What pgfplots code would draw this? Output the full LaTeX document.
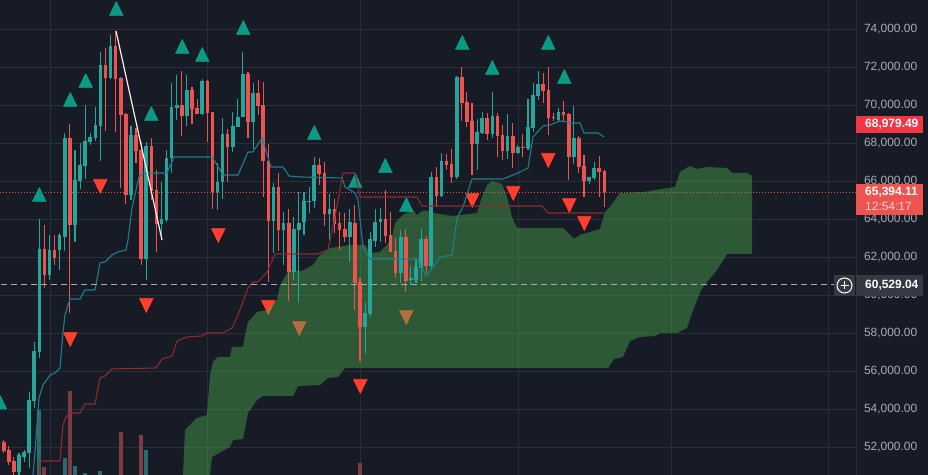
\documentclass[border=0pt]{standalone}
\usepackage{pgfplots}
\usepackage{pgfplotstable}
\usepackage{fontspec}
\setmainfont{Liberation Sans}
\pgfplotsset{compat=1.18}
\definecolor{bg}{HTML}{171B26}
\definecolor{gridc}{HTML}{2A2E39}
\definecolor{upc}{HTML}{26A69A}
\definecolor{dnc}{HTML}{EF5350}
\definecolor{triup}{HTML}{0A9A85}
\definecolor{tridn}{HTML}{FB4032}
\definecolor{tenkan}{HTML}{1E7F8C}
\definecolor{kijun}{HTML}{8C2A30}
\definecolor{volr}{HTML}{7D3C42}
\definecolor{volt}{HTML}{2B6A6D}
\definecolor{lab}{HTML}{A9ACB5}
\definecolor{tagd}{HTML}{353944}
\definecolor{cloudg}{HTML}{4CAF50}
\definecolor{tagr}{HTML}{F23645}
\pgfplotstableread{
i o h l c
3 50680 51680 50400 51580
4 51470 51840 51210 51740
5 51680 54900 50900 54470
6 54420 57530 54050 57050
7 57000 64000 56680 62420
9 61050 63160 60790 62370
11 62370 63260 61320 63160
12 63050 68530 62320 68260
14 63680 67630 62790 66050
15 66000 68000 65580 66840
16 66790 70000 66110 68110
17 68050 68530 67900 68320
18 68260 69900 68110 68950
19 68900 72790 67050 72110
21 71420 73680 71370 73110
25 65260 68900 65000 68420
28 61900 68050 60790 67840
31 63740 65950 62900 64000
32 63950 67630 63840 67210
33 67210 71160 66420 69900
34 69840 71580 69210 70000
36 69420 71580 68900 70790
39 69530 71370 69470 71260
42 65420 66950 64470 65950
43 65950 69320 65050 68470
45 67790 69630 67530 68900
46 68840 70320 68840 69370
47 69370 72790 69370 71630
49 69110 71160 67680 70630
53 63900 65900 62210 65680
55 63420 64370 61580 63790
57 61210 64110 60790 63470
58 63420 65420 59630 63790
59 63840 65420 63160 64950
60 64900 65680 64320 64950
61 64950 67260 64580 66840
64 64260 65320 62900 64530
68 63050 64530 61740 63840
71 58320 59630 56900 59050
72 59000 63320 58840 62950
73 62840 64530 62530 63840
74 63840 64580 62790 64000
78 61160 63420 60630 63050
80 60790 61530 60530 60900
81 60790 61900 60630 61470
82 61420 63470 60740 62950
84 61530 66470 61320 66210
86 65210 67470 65160 67050
89 66210 71530 66110 71470
93 67950 69260 66580 68580
94 68530 69630 68470 69320
96 68470 70680 68260 69420
99 67580 69530 67160 68370
101 67470 67900 67420 67790
103 67740 70320 67630 68840
104 68790 71160 68580 70530
105 70470 71790 70260 71110
109 69210 69840 69160 69630
112 67260 69950 66900 68260
115 66000 66210 65840 66210
116 66160 67000 66050 66680
}\upcandles
\pgfplotstableread{
i o h l c
0 52260 52370 51680 51790
1 51840 52050 51050 51210
2 51260 51470 50400 50680
8 62420 63680 60370 61050
10 62370 63160 61580 61950
13 68260 69000 59050 63680
20 72110 73000 68630 71420
22 73110 73900 68580 71370
23 71420 71470 65630 69470
24 69530 69580 64790 65260
26 68420 68790 66950 67580
27 67630 68050 61580 61900
29 67840 68260 65000 65470
30 65530 66580 62260 63740
35 70000 71790 68370 69420
37 70790 70950 69000 69790
38 69840 70320 69530 69530
40 71260 71320 68050 69580
41 69630 69630 64530 65420
44 68470 68740 65950 67790
48 71630 71740 68260 69110
50 70630 71320 69470 69950
51 70000 71210 65160 67050
52 67050 67950 60680 63900
54 65680 66420 62320 63420
56 63790 64530 59680 61210
62 66840 67210 65790 66370
63 66420 67000 63630 64260
65 64530 65050 63260 63740
66 63790 64370 62370 63420
67 63470 64320 62790 63050
69 63790 64740 59210 60630
70 60680 60900 56530 58320
75 64000 65530 62740 63110
76 63160 64370 62260 62260
77 62320 63000 60900 61160
79 63050 63470 60160 60740
83 62950 63110 61160 61530
85 66210 66740 64630 65210
87 67050 67420 66580 66840
88 66900 67680 65900 66210
90 71470 72000 69160 70110
91 70160 70680 68840 69110
92 69160 70110 66320 67950
95 69320 69580 68160 68470
97 69420 69580 67260 68370
98 68420 68950 67110 67580
100 68370 69050 66680 67470
102 67790 68470 67260 67750
106 71110 71680 70110 70740
107 70790 72000 68420 69320
108 69370 69580 69160 69330
110 69630 70210 69110 69470
111 69530 69580 66050 67260
113 68260 68370 66420 66740
114 66790 67370 65160 66000
117 66680 67320 65160 66470
118 66530 66580 64630 65394
}\dncandles
\pgfplotsset{
  candle/.style 2 args={draw=none, no marks, forget plot,
    error bars/.cd, y dir=plus, y explicit, error mark=none,
    error bar style={draw=#1, line width=#2, solid}},
  geom/.style={at={(0,0)}, anchor=south west, width=856bp, height=475bp,
    scale only axis, xmin=0, xmax=856}
}
\begin{document}
\begin{tikzpicture}[x=1bp,y=1bp]
\useasboundingbox (0,0) rectangle (928,475);
\fill[bg] (0,0) rectangle (928,475);
% grid and price labels
\begin{axis}[geom, ymin=50526, ymax=75526,
  axis line style={draw=none}, major tick length=0pt,
  xtick={50,207,360,518,671,828}, xticklabels={},
  ytick={52000,54000,56000,58000,60000,62000,64000,66000,68000,70000,72000,74000},
  scaled y ticks=false,
  yticklabel pos=right, grid=major, grid style={gridc, line width=0.8bp},
  y tick label style={anchor=west, xshift=4.5bp, yshift=-0.5bp, text=lab, font=\fontsize{12}{14}\selectfont},
  /pgf/number format/fixed, /pgf/number format/fixed zerofill, /pgf/number format/precision=2,
  /pgf/number format/1000 sep={,}, /pgf/number format/assume math mode=true]
\addplot[dnc, line width=0.9bp, dash pattern=on 1bp off 2bp] coordinates {(0,65394)(856,65394)};
\end{axis}
% volume, on a scale of its own at the foot of the pane
\begin{axis}[geom, ymin=0, ymax=475, hide axis]
\addplot[ycomb, volr, line width=4bp, no marks] coordinates {(44,8)(70,84)(121,43)(141,40)(360,12)};
\addplot[ycomb, volt, line width=4bp, no marks] coordinates {(39,65)(65,17)(75,9)(85,2)(100,4)(146,25)};
\end{axis}
% signal triangles (lie under the cloud)
\begin{axis}[geom, ymin=50526, ymax=75526, hide axis]
\addplot[only marks, mark=triangle*, mark size=9.2bp, mark options={draw=none, fill=triup, yscale=1.17}] coordinates {
(116.3,74968)(243.3,73968)(182.3,72968)(202.3,72547)(85.7,71179)(70.3,70179)(151.3,69442)(39.3,65179)(0,54242)
(462.3,73179)(548.3,73179)(492.3,71863)(564.3,71389)(314.3,68442)(385.3,66705)(355.3,65916)(406.3,64653)};
\addplot[only marks, mark=triangle*, mark size=9.2bp, mark options={draw=none, fill=tridn, rotate=180, yscale=1.17}] coordinates {
(100.3,65821)(218.3,63242)(146.3,59558)(70.3,57768)(268.3,59453)(548.3,67190)(513.3,65453)(472.3,65084)
(569.3,64821)(584.3,63874)(360.3,55295)(299.3,58347)(406.3,58926)};
\end{axis}
% cloud, candles and lines
\begin{axis}[geom, ymin=50526, ymax=75526, hide axis]
\addplot[fill=cloudg, fill opacity=0.42, draw=none] coordinates {
(183,50526)(185,52895)(192,53263)(197,53526)(207,53684)(210,55789)(213,56474)(218,56737)(230,56737)(232,57263)
(243,57263)(245,57895)(248,58579)(257,59105)(267,59211)(277,59737)(280,60526)(289,61316)(302,61263)(313,61579)
(320,62105)(330,62474)(350,62632)(365,62632)(370,62211)(380,62263)(387,62632)(392,63053)(395,63789)(403,64211)
(413,64474)(417,64211)(422,64421)(430,64421)(433,64316)(453,64158)(477,64316)(482,65158)(487,65789)(492,66000)
(502,65842)(507,65158)(512,64105)(517,63526)(563,63526)(574,62947)(580,63158)(600,63474)(605,64368)(610,64632)
(620,65368)(643,65421)(675,65684)(680,66474)(690,66789)(697,66632)(707,66737)(727,66684)(732,66421)(747,66421)
(752,66263)
(752,62158)(727,62158)(717,61316)(707,60684)(701,60263)(692,59053)(687,58263)(677,58000)(660,58000)(655,57842)
(640,57789)(630,57579)(623,56737)(614,56632)(608,56158)(345,56158)(338,55684)(328,55632)(320,55263)(298,55211)
(293,54684)(263,54684)(257,54474)(248,53789)(243,52421)(233,52368)(230,52000)(212,51474)(210,50526)} \closedcycle;
% candles
\addplot[candle={upc}{1.1bp}] table[x expr=\thisrow{i}*5.09+3.7, y=l, y error plus expr=\thisrow{h}-\thisrow{l}] {\upcandles};
\addplot[candle={dnc}{1.1bp}] table[x expr=\thisrow{i}*5.09+3.7, y=l, y error plus expr=\thisrow{h}-\thisrow{l}] {\dncandles};
\addplot[candle={upc}{3.6bp}] table[x expr=\thisrow{i}*5.09+3.7, y=o, y error plus expr=\thisrow{c}-\thisrow{o}] {\upcandles};
\addplot[candle={dnc}{3.6bp}] table[x expr=\thisrow{i}*5.09+3.7, y=c, y error plus expr=\thisrow{o}-\thisrow{c}] {\dncandles};
% conversion line
\addplot[tenkan, line width=1.1bp] coordinates {
(33,50526)(35,51737)(39,54579)(43,55263)(50,55789)(55,55895)(60,56158)(63,58053)(65,58947)(70,59789)(80,59789)
(85,60263)(95,60263)(100,61684)(105,61737)(112,62105)(118,62263)(126,62368)(128,62895)(132,64579)(139,66211)
(143,66421)(167,66421)(174,67263)(212,67263)(223,66316)(238,66316)(248,67526)(253,67526)(262,68263)(271,66737)
(283,66737)(289,66263)(300,66211)(342,66158)(345,65684)(355,65368)(358,65000)(363,62526)(370,61895)(417,61895)
(426,61000)(435,61579)(440,62000)(452,62105)(457,64053)(463,64632)(472,66105)(503,66105)(518,66421)(528,66684)
(533,68316)(543,68895)(550,68947)(560,69158)(567,69105)(570,69053)(580,69053)(584,68526)(598,68526)(604,68316)};
% base line
\addplot[kijun, line width=1.1bp] coordinates {
(39,50526)(40,51263)(60,51263)(63,53158)(66,53579)(70,53789)(80,53789)(85,54263)(95,54263)(100,55632)(105,55737)
(112,56105)(156,56158)(162,56632)(172,56789)(177,57579)(187,57789)(202,57842)(207,58000)(223,58000)(232,58263)
(238,58947)(248,60368)(253,60684)(258,60684)(267,61211)(275,62158)(317,62158)(328,62368)(330,62895)(335,64105)
(343,66421)(355,66421)(360,65158)(417,65158)(422,64684)(542,64684)(548,64316)(604,64316)};
% drawn trend line and alert line
\addplot[white!92!red, line width=1.2bp] coordinates {(116,73895)(162,62895)};
\addplot[lab, line width=1bp, dash pattern=on 6bp off 4bp] coordinates {(1,60529)(834,60529)};
\end{axis}
% price scale
\draw[gridc, line width=1bp] (856,0) -- (856,475);
\fill[tagr] (856,342) rectangle (923,359);
\node[anchor=west, inner sep=0pt, text=white, font=\fontsize{12}{14}\selectfont\bfseries] at (865,350.5) {68,979.49};
\fill[dnc] (856,260) rectangle (923,291);
\node[anchor=west, inner sep=0pt, text=white, font=\fontsize{12}{14}\selectfont\bfseries] at (865,282.5) {65,394.11};
\node[anchor=west, inner sep=0pt, text=white!75!dnc, font=\fontsize{12}{14}\selectfont] at (865,269) {12:54:17};
\fill[tagd] (856,179) rectangle (923,200);
\node[anchor=west, inner sep=0pt, text=white, font=\fontsize{12}{14}\selectfont\bfseries] at (865,189.5) {60,529.04};
\fill[tagd] (834,179) rectangle (855,200);
\draw[white, line width=1bp] (844.5,189.5) circle (7.5);
\draw[white, line width=1bp] (840.5,189.5) -- (848.5,189.5) (844.5,185.5) -- (844.5,193.5);
\end{tikzpicture}
\end{document}
